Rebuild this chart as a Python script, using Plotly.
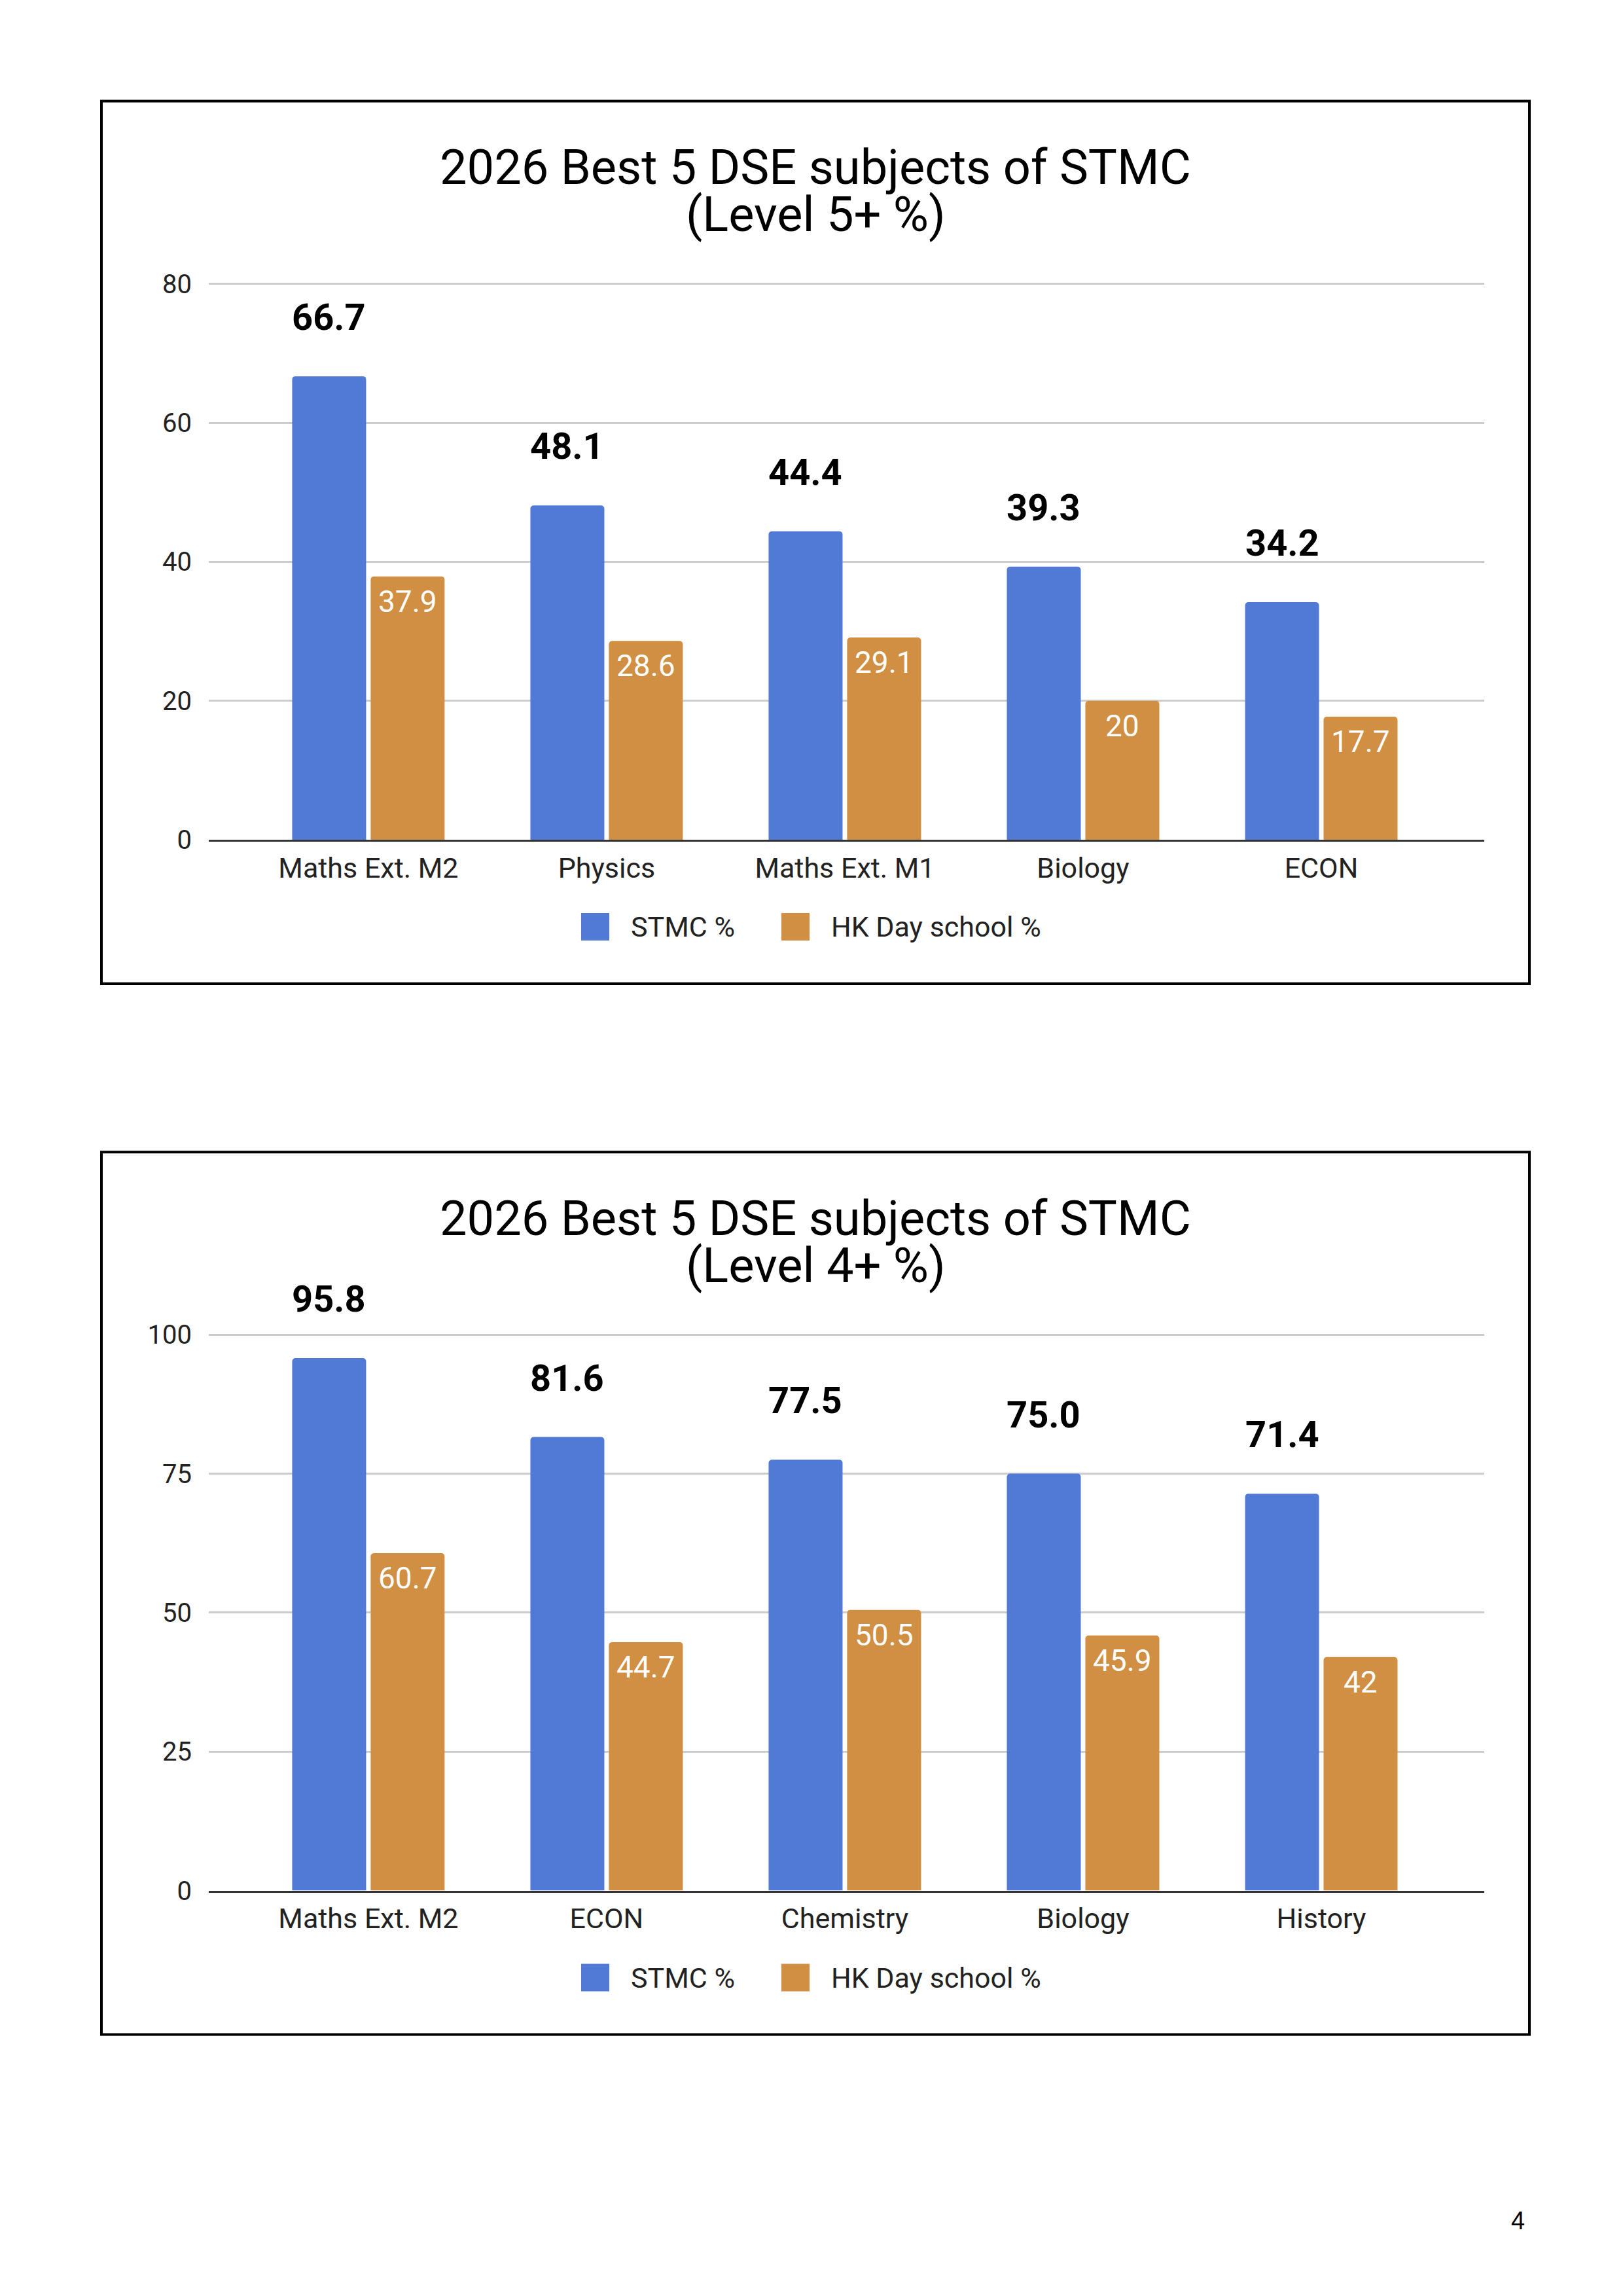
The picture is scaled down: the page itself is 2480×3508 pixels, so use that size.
import plotly.graph_objects as go

W, H = 2480, 3508

# chart 1: Level 5+
subjects_l5 = ["Maths Ext. M2", "Physics", "Maths Ext. M1", "Biology", "ECON"]
stmc_l5 = [66.7, 48.1, 44.4, 39.3, 34.2]
hk_l5 = [37.9, 28.6, 29.1, 20, 17.7]

# chart 2: Level 4+
subjects_l4 = ["Maths Ext. M2", "ECON", "Chemistry", "Biology", "History"]
stmc_l4 = [95.8, 81.6, 77.5, 75.0, 71.4]
hk_l4 = [60.7, 44.7, 50.5, 45.9, 42]

yticks_l5 = [0, 20, 40, 60, 80]
yticks_l4 = [0, 25, 50, 75, 100]

series_names = ["STMC %", "HK Day school %"]
title_line1 = "2026 Best 5 DSE subjects of STMC"
titles_line2 = ["(Level 5+ %)", "(Level 4+ %)"]

BLUE = "#5179d6"
ORANGE = "#d08f42"
FONT = "Roboto"
PAD = 8  # page body margin of the html


def fx(px):
    return (px - PAD) / W


def fy(py):
    # small vertical correction measured against the screenshot
    py = 1.0113 * py - 14.7
    return 1 - (py - PAD) / H


fig = go.Figure()

charts = [
    dict(cats=subjects_l5, a=stmc_l5, b=hk_l5, ticks=yticks_l5, ax="", off=0),
    dict(cats=subjects_l4, a=stmc_l4, b=hk_l4, ticks=yticks_l4, ax="2", off=1605),
]

annotations = []
shapes = []

for i, c in enumerate(charts):
    xa = "x" + c["ax"]
    ya = "y" + c["ax"]
    off = c["off"]
    fig.add_trace(go.Bar(x=c["cats"], y=c["a"], name=series_names[0], xaxis=xa, yaxis=ya,
                         marker=dict(color=BLUE, cornerradius=5, line=dict(width=0)), showlegend=False))
    fig.add_trace(go.Bar(x=c["cats"], y=c["b"], name=series_names[1], xaxis=xa, yaxis=ya,
                         marker=dict(color=ORANGE, cornerradius=5, line=dict(width=0)), showlegend=False))

    # value labels
    for cat, v in zip(c["cats"], c["a"]):
        annotations.append(dict(x=cat, y=v, xref=xa, yref=ya, text="<b>%.1f</b>" % v, showarrow=False,
                                xshift=-60, yshift=90, yanchor="middle",
                                font=dict(family=FONT, size=56, color="#000000")))
    for cat, v in zip(c["cats"], c["b"]):
        annotations.append(dict(x=cat, y=v, xref=xa, yref=ya, text="%g" % v, showarrow=False,
                                xshift=60, yshift=-38, yanchor="middle",
                                font=dict(family=FONT, size=46, color="#ffffff")))

    # titles
    annotations.append(dict(x=fx(1246), y=fy(256 + off), xref="paper", yref="paper", text=title_line1,
                            showarrow=False, xanchor="center", yanchor="middle",
                            font=dict(family=FONT, size=74, color="#000000")))
    annotations.append(dict(x=fx(1246), y=fy(328 + off), xref="paper", yref="paper", text=titles_line2[i],
                            showarrow=False, xanchor="center", yanchor="middle",
                            font=dict(family=FONT, size=74, color="#000000")))

    # legend
    leg_y = 1416 + off
    for (sx, tx, col, name) in [(888, 962, BLUE, series_names[0]), (1194, 1268, ORANGE, series_names[1])]:
        shapes.append(dict(type="rect", xref="paper", yref="paper", x0=fx(sx), x1=fx(sx + 43),
                           y0=fy(leg_y + 21), y1=fy(leg_y - 21), fillcolor=col, line=dict(width=0)))
        annotations.append(dict(x=fx(tx), y=fy(leg_y), xref="paper", yref="paper", text=name,
                                showarrow=False, xanchor="left", yanchor="middle",
                                font=dict(family=FONT, size=43, color="#222222")))

    # frame
    shapes.append(dict(type="rect", xref="paper", yref="paper", x0=fx(155), x1=fx(2337),
                       y0=fy(1503 + off), y1=fy(155 + off), line=dict(color="#000000", width=4)))

    # y scale: top gridline at 434 (+off), zero at 1283 (+off); range padded so the top grid shows
    top_val = c["ticks"][-1]
    ppu = (1283 - 434) / top_val
    pad_val = top_val * 0.01
    top = 434 + off - pad_val * ppu
    bottom = 1283 + off
    axis_x = dict(domain=[fx(319), fx(2268)], range=[-0.67, 4.684], type="category",
                  showline=True, linecolor="#333333", linewidth=3, showgrid=False,
                  ticks="", ticklabelstandoff=3, tickfont=dict(family=FONT, size=43, color="#222222"),
                  anchor=ya, fixedrange=True)
    axis_y = dict(domain=[fy(bottom), fy(top)], range=[0, top_val + pad_val],
                  tickvals=c["ticks"], showgrid=True, gridcolor="#cccccc", gridwidth=3,
                  zeroline=False, showline=False, ticks="", ticklabelstandoff=25,
                  tickfont=dict(family=FONT, size=40, color="#222222"), anchor=xa)
    fig.layout["xaxis" + c["ax"]] = axis_x
    fig.layout["yaxis" + c["ax"]] = axis_y

# page number
annotations.append(dict(x=fx(2319), y=fy(3392), xref="paper", yref="paper", text="4", showarrow=False,
                        xanchor="center", yanchor="middle",
                        font=dict(family="Liberation Sans", size=38, color="#000000")))

fig.update_layout(width=W, height=H, margin=dict(l=0, r=0, t=0, b=0),
                  paper_bgcolor="white", plot_bgcolor="white",
                  barmode="group", bargap=0.341, bargroupgap=0.058,
                  annotations=annotations, shapes=shapes, showlegend=False,
                  font=dict(family=FONT))

fig.write_html("out.html")
